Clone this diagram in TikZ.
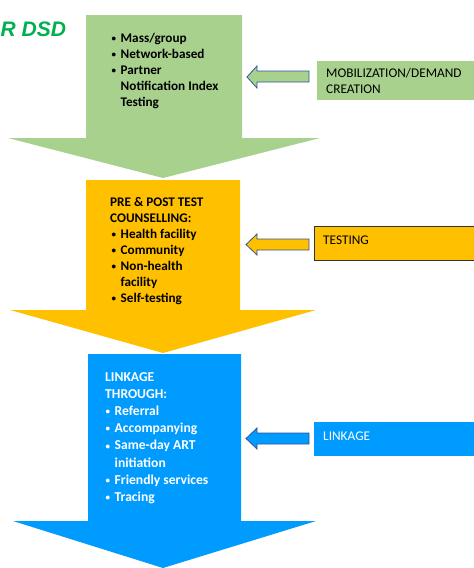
\documentclass[tikz,border=0pt]{standalone}
\usepackage{fontspec}
\setmainfont{Carlito}
\definecolor{lgreen}{HTML}{A9D18E}
\definecolor{dgreen}{HTML}{00B050}
\definecolor{orng}{HTML}{FFC000}
\definecolor{blu}{HTML}{009BFF}
\definecolor{outl}{HTML}{2F5597}
\newcommand{\bl}{\makebox[9.5pt][l]{\hspace{0.5pt}{\fontsize{9}{9}\selectfont\raisebox{0.8pt}{•}}}}
\newcommand{\ind}{\hspace*{9.5pt}}
\tikzset{
  bigtext/.style={anchor=base west, align=left, inner sep=0pt, font=\bfseries\fontsize{13.2}{16}\selectfont},
  bluetext/.style={anchor=base west, align=left, inner sep=0pt, text=white, font=\bfseries\fontsize{13.6}{17.2}\selectfont},
  sidetext/.style={anchor=base west, align=left, inner sep=0pt, font=\fontsize{13.3}{16}\selectfont},
  smallarrow/.style={draw=outl, line width=0.8pt, line join=miter},
}
\begin{document}
\begin{tikzpicture}[x=1pt,y=-1pt]
\useasboundingbox (0,0) rectangle (474,568);
% big arrows
\fill[lgreen] (86,15) -- (242,15) -- (242,138) -- (320,138) -- (163,178) -- (8,138) -- (86,138) -- cycle;
\fill[orng] (86,180) -- (240,180) -- (240,310) -- (316,310) -- (163,353) -- (10,310) -- (86,310) -- cycle;
\fill[blu] (88,354) -- (241,354) -- (241,521) -- (316,521) -- (163,568) -- (13,521) -- (88,521) -- cycle;
% title fragment
\node[anchor=base west, inner sep=0pt, text=dgreen, font=\fontspec{Liberation Sans}\bfseries\itshape\fontsize{21}{24}\selectfont] (title) at (0.5,36) {R DSD};
% texts in arrows (anchored at the baseline of the last line)
\node[bigtext] (t1) at (111,106.5) {\bl Mass/group\\ \bl Network-based\\ \bl Partner\\ \ind Notification Index\\ \ind Testing};
\node[bigtext] (t2) at (110,302) {PRE \& POST TEST\\ COUNSELLING:\\ \hspace*{1pt}\bl Health facility\\ \hspace*{1pt}\bl Community\\ \hspace*{1pt}\bl Non-health\\ \hspace*{1pt}\ind facility\\ \hspace*{1pt}\bl Self-testing};
\node[bluetext] (t3) at (105,501.5) {LINKAGE\\ THROUGH:\\ \bl Referral\\ \bl Accompanying\\ \bl Same-day ART\\ \ind initiation\\ \bl Friendly services\\ \bl Tracing};
% side boxes
\fill[lgreen] (317,61) rectangle (474,100);
\node[sidetext] (s1) at (326,93.5) {MOBILIZATION/DEMAND\\ CREATION};
\filldraw[fill=orng, draw=black!80, line width=0.8pt] (314,226) rectangle (474,260);
\node[sidetext] (s2) at (323,244) {TESTING};
\fill[blu] (314,422) rectangle (474,456);
\node[sidetext, text=white] (s3) at (323,440) {LINKAGE};
% small arrows
\filldraw[smallarrow, fill=lgreen] (309,71) -- (257,71) -- (257,66) -- (247,77) -- (257,88) -- (257,82) -- (309,82) -- cycle;
\filldraw[smallarrow, fill=orng] (309,239) -- (257,239) -- (257,234) -- (246,244.5) -- (257,255) -- (257,250) -- (309,250) -- cycle;
\filldraw[smallarrow, fill=blu] (309,433) -- (257,433) -- (257,428) -- (246,438.5) -- (257,449) -- (257,444) -- (309,444) -- cycle;
\end{tikzpicture}
\end{document}
